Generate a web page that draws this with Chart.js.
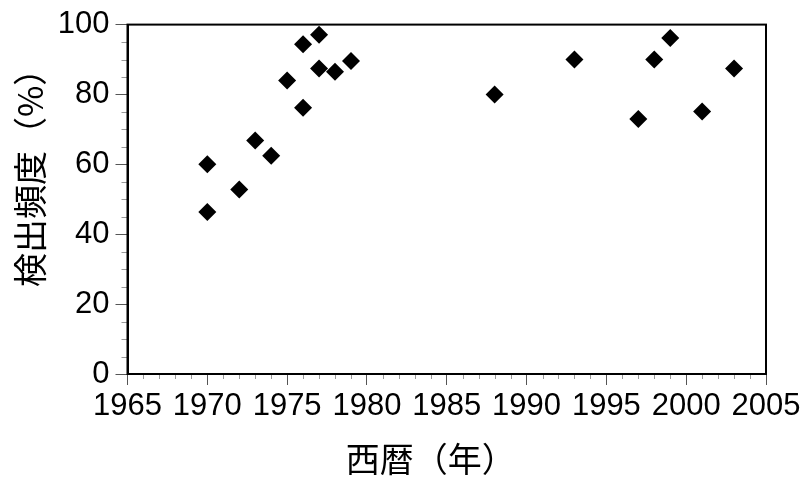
<!DOCTYPE html>
<html>
<head>
<meta charset="utf-8">
<script src="https://cdn.jsdelivr.net/npm/chart.js@4.4.1/dist/chart.umd.min.js"></script>
<style>
  html, body { margin: 0; padding: 0; background: #fff; }
  #wrap { width: 805px; height: 481px; }
</style>
</head>
<body>
<div id="wrap"><canvas id="chart"></canvas></div>
<script>
// 検出年（西暦）と検出頻度（%）
const years = [1970, 1970, 1972, 1973, 1974, 1975, 1976, 1976, 1977, 1977,
               1978, 1979, 1988, 1993, 1997, 1998, 1999, 2001, 2003];
const detectRates = [60, 46.4, 52.8, 66.8, 62.5, 84, 76.2, 94.4, 97.1, 87.4,
                     86.5, 89.6, 80, 90, 73, 90, 96.2, 75.1, 87.4];

const xTitle = '西暦（年）';
const yTitle = '検出頻度（%）';
const xRange = [1965, 2005];
const yRange = [0, 100];

const FONT = '"Liberation Sans", Arial, "Noto Sans CJK JP", sans-serif';
const TITLE_FONT = '34px "Noto Sans CJK JP", "Liberation Sans", sans-serif';

// 枠・副目盛り・軸タイトルを描く
const frameAndTitles = {
    id: 'frameAndTitles',
    afterDraw(chart) {
        const ctx = chart.ctx;
        const a = chart.chartArea;
        const xs = chart.scales.x;
        const ys = chart.scales.y;
        ctx.save();
        ctx.strokeStyle = '#999';
        ctx.lineWidth = 1;
        ctx.beginPath();
        for (let v = xRange[0]; v <= xRange[1]; v++) {
            if (v % 5 === 0) continue;
            const px = Math.round(xs.getPixelForValue(v)) + 0.5;
            ctx.moveTo(px, a.bottom);
            ctx.lineTo(px, a.bottom + 5);
        }
        for (let v = yRange[0]; v <= yRange[1]; v += 5) {
            if (v % 20 === 0) continue;
            const py = Math.round(ys.getPixelForValue(v)) + 0.5;
            ctx.moveTo(a.left, py);
            ctx.lineTo(a.left - 6, py);
        }
        ctx.stroke();
        ctx.strokeStyle = '#000';
        ctx.lineWidth = 2;
        ctx.strokeRect(a.left, a.top, a.right - a.left, a.bottom - a.top);

        // 軸タイトル（元図では中央から少しずれている）
        ctx.fillStyle = '#000';
        ctx.font = TITLE_FONT;
        ctx.textAlign = 'center';
        ctx.textBaseline = 'middle';
        const cx = (a.left + a.right) / 2;
        const cy = (a.top + a.bottom) / 2;
        ctx.fillText(xTitle, cx - 16, chart.height - 22);
        ctx.translate(30, cy - 30);
        ctx.rotate(-Math.PI / 2);
        ctx.fillText(yTitle, 0, 0);
        ctx.restore();
    }
};

new Chart(document.getElementById('chart'), {
    type: 'scatter',
    data: {
        datasets: [{
            data: years.map((y, i) => ({ x: y, y: detectRates[i] })),
            pointStyle: 'rectRot',
            pointRadius: 9,
            pointHoverRadius: 9,
            backgroundColor: '#000',
            borderColor: '#000',
            borderWidth: 0
        }]
    },
    options: {
        responsive: true,
        maintainAspectRatio: false,
        animation: false,
        layout: { padding: { top: 22, right: 39, bottom: 0, left: 0 } },
        plugins: { legend: { display: false }, tooltip: { enabled: false } },
        scales: {
            x: {
                type: 'linear',
                min: xRange[0],
                max: xRange[1],
                afterFit: (s) => { s.height = 107; },
                ticks: {
                    stepSize: 5,
                    color: '#000',
                    padding: 3,
                    maxRotation: 0,
                    font: { family: FONT, size: 31 },
                    callback: (v) => String(v)
                },
                grid: { drawOnChartArea: false, tickLength: 11, color: '#555' },
                border: { color: '#000', width: 2 }
            },
            y: {
                min: yRange[0],
                max: yRange[1],
                afterFit: (s) => { s.width = 127.5; },
                ticks: {
                    stepSize: 20,
                    color: '#000',
                    padding: 6,
                    font: { family: FONT, size: 31 }
                },
                grid: { drawOnChartArea: false, tickLength: 12, color: '#555' },
                border: { color: '#000', width: 2 }
            }
        }
    },
    plugins: [frameAndTitles]
});
</script>
</body>
</html>
